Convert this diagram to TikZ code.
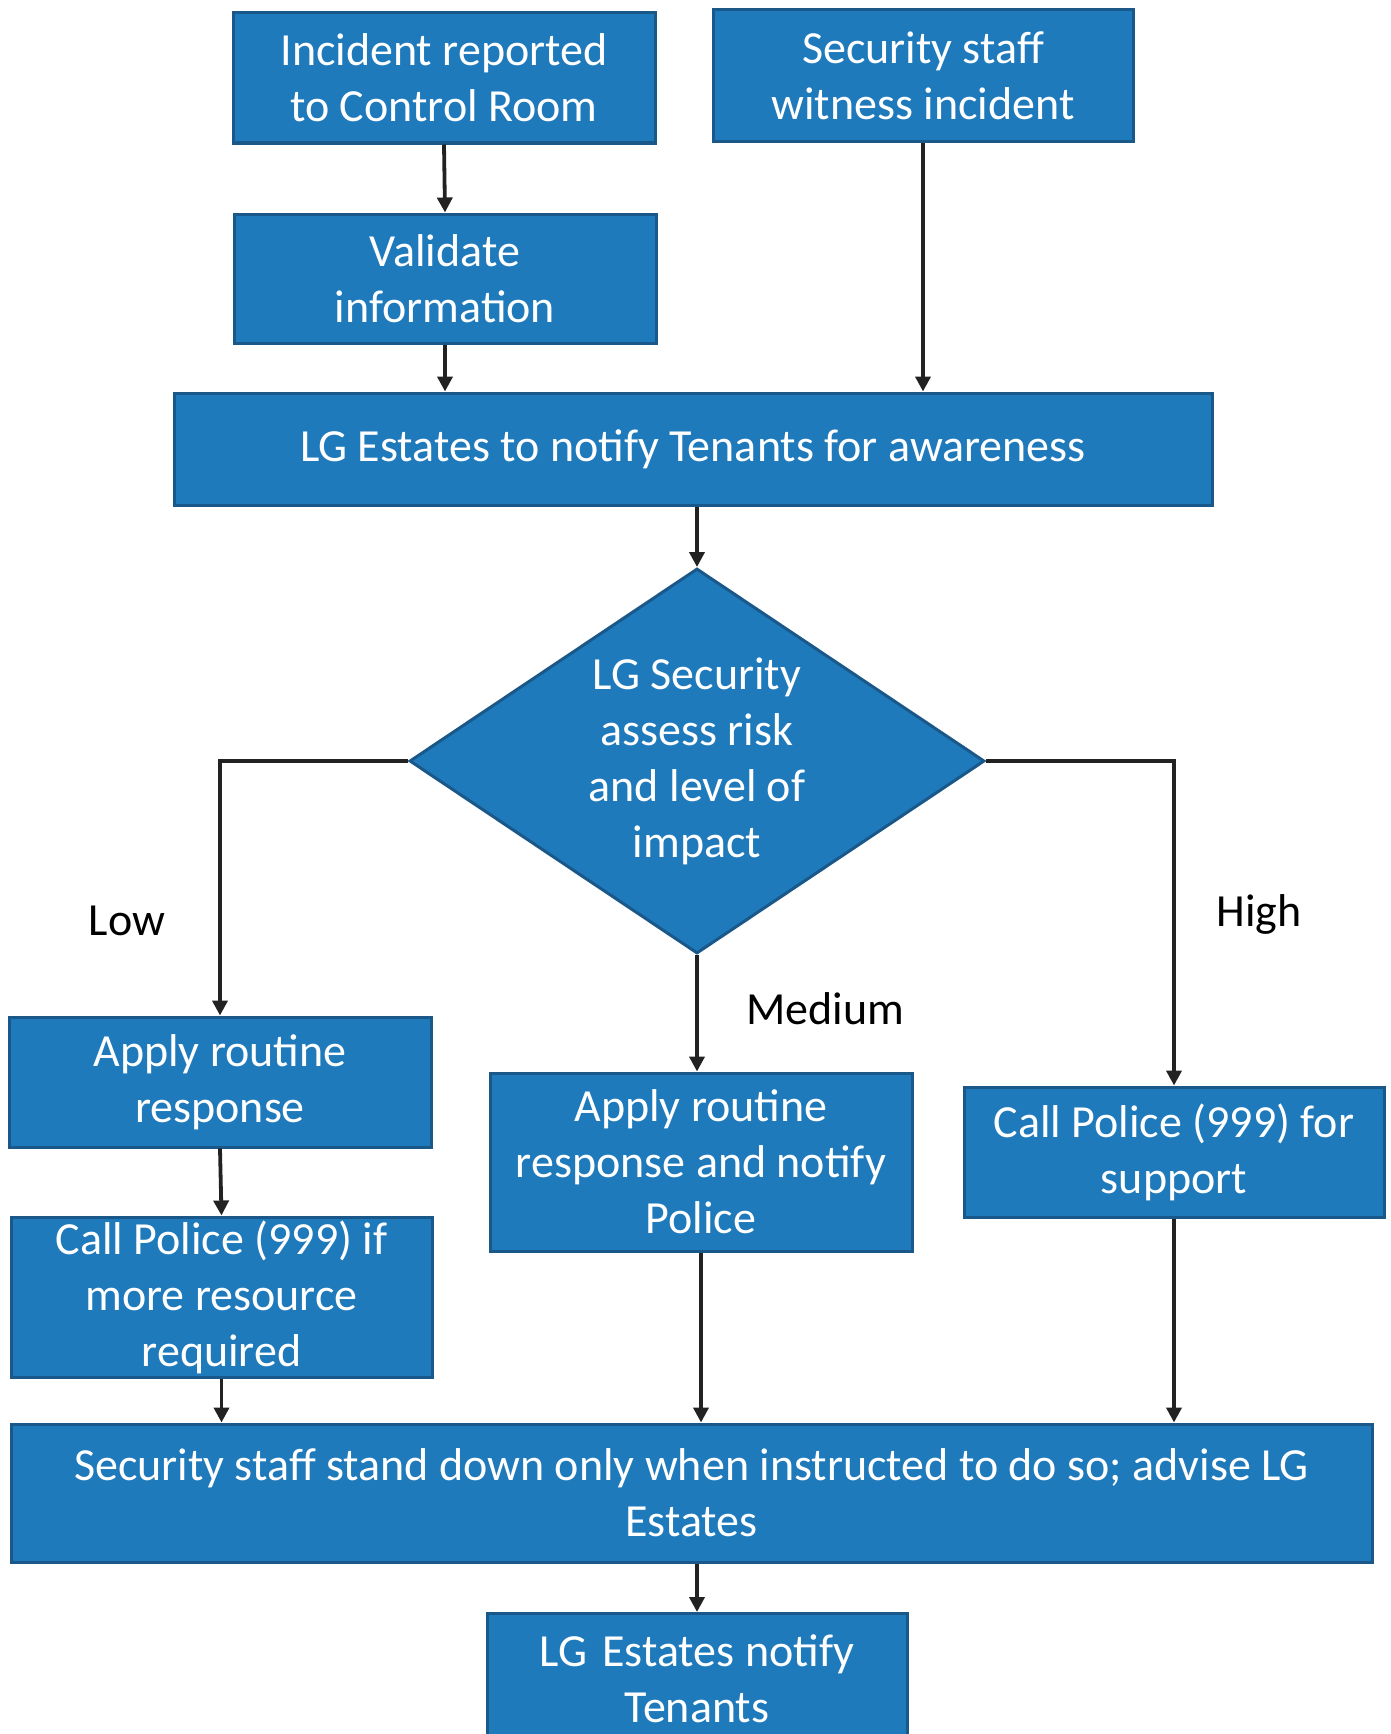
\documentclass[tikz,border=0pt]{standalone}
\usepackage{fontspec}
\setmainfont{Carlito}
\usetikzlibrary{shapes.geometric,arrows.meta}
\definecolor{boxfill}{RGB}{31,122,188}
\definecolor{boxline}{RGB}{26,88,138}
\definecolor{arrowcol}{RGB}{34,34,34}
\begin{document}
\begin{tikzpicture}[x=1pt,y=-1pt,
  box/.style={rectangle, draw=boxline, fill=boxfill, line width=3pt, text=white, align=center, inner sep=0pt,
    font=\fontsize{46}{56}\selectfont},
  dia/.style={diamond, draw=boxline, fill=boxfill, line width=3pt, inner sep=0pt},
  lbl/.style={text=black, font=\fontsize{46}{56}\selectfont, inner sep=0pt},
  arr/.style={draw=arrowcol, line width=3.8pt, -{Triangle[length=15pt,width=15pt]}}
]
\useasboundingbox (0,0) rectangle (1391,1734);
\fill[white] (0,0) rectangle (1391,1734);

\node[box, minimum width=422pt, minimum height=130pt] (b1) at (444,78) {Incident reported\\to Control Room};
\node[box, minimum width=420pt, minimum height=132pt] (b2) at (923,76) {Security staff\\witness incident};
\node[box, minimum width=422pt, minimum height=129pt] (b3) at (445,278.5) {Validate\\information};
\node[box, minimum width=1038pt, minimum height=112pt] (b4) at (693,449) {LG Estates to notify Tenants for awareness};
\node[dia, minimum width=575pt, minimum height=385pt,
  label={[text=white, align=center, font=\fontsize{46}{56}\selectfont, inner sep=0pt]center:LG Security\\assess risk\\and level of\\impact}] (d) at (697,761) {};
\node[box, minimum width=422pt, minimum height=130pt] (b5) at (220,1082) {Apply routine\\response};
\node[box, minimum width=421pt, minimum height=160pt] (b6) at (221.5,1297) {Call Police (999) if\\more resource\\required};
\node[box, minimum width=422pt, minimum height=178pt] (b7) at (701,1162) {Apply routine\\response and notify\\Police};
\node[box, minimum width=420pt, minimum height=130pt] (b8) at (1174,1152) {Call Police (999) for\\support};
\node[box, minimum width=1361pt, minimum height=138pt] (b9) at (691.5,1493) {Security staff stand down only when instructed to do so; advise LG\\Estates};
\node[box, minimum width=420pt, minimum height=138pt, anchor=north,
  label={[text=white, align=center, font=\fontsize{46}{56}\selectfont, inner sep=0pt, yshift=4pt]center:LG\,\,Estates notify\\Tenants}] (b10) at (697,1612) {};

\node[lbl] (low) at (127,921) {Low};
\node[lbl] (high) at (1259,914) {High};
\node[lbl] (med) at (825,1009) {Medium};

\draw[arr] (b1.south) -- (b3.north);
\draw[arr] (b3.south) -- (b3.south |- b4.north);
\draw[arr] (b2.south) -- (b2.south |- b4.north);
\draw[arr] (b4.south -| d.north) -- (d.north);
\draw[arr] (d.west) -| (b5.north);
\draw[arr] (d.east) -| (b8.north);
\draw[arr] (d.south) -- (d.south |- b7.north);
\draw[arr] (b5.south) -- (b6.north);
\draw[arr] (b6.south) -- (b6.south |- b9.north);
\draw[arr] (b7.south) -- (b7.south |- b9.north);
\draw[arr] (b8.south) -- (b8.south |- b9.north);
\draw[arr] (b10.north |- b9.south) -- (b10.north);
\end{tikzpicture}
\end{document}
